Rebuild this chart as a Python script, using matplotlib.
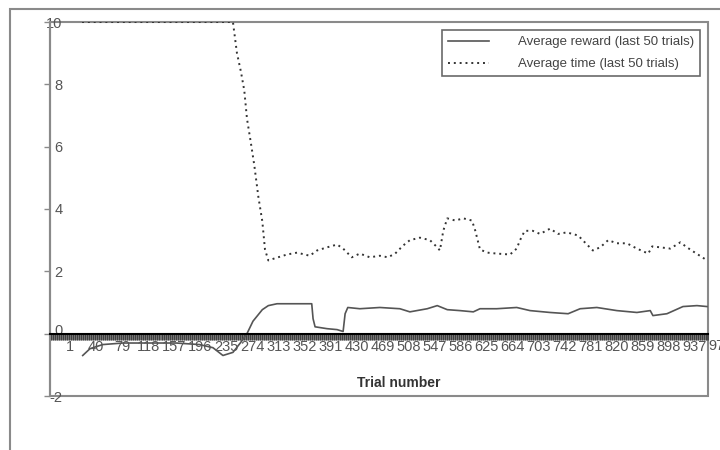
import matplotlib
matplotlib.use("Agg")
import matplotlib.pyplot as plt
import matplotlib.transforms as mtransforms
from matplotlib.patches import Rectangle
from matplotlib.ticker import MultipleLocator, FixedLocator

plt.rcParams['font.family'] = ['Liberation Sans', 'DejaVu Sans']

# average reward over the last 50 trials
reward_trial = [20, 31, 50, 80, 120, 160, 195, 215, 230, 245, 256, 266, 275, 289, 298,
                311, 363, 365, 368, 386, 401, 410, 413, 417, 435, 465, 495, 510, 536,
                551, 566, 585, 605, 615, 640, 670, 690, 720, 747, 765, 790, 820, 850,
                870, 874, 895, 919, 940, 955]
reward_val = [-0.7, -0.48, -0.35, -0.3, -0.3, -0.3, -0.35, -0.45, -0.7, -0.6, -0.3, 0.0,
              0.4, 0.77, 0.9, 0.96, 0.96, 0.48, 0.22, 0.16, 0.13, 0.07, 0.64, 0.84, 0.8,
              0.84, 0.8, 0.7, 0.8, 0.9, 0.77, 0.74, 0.7, 0.8, 0.8, 0.84, 0.74, 0.68,
              0.64, 0.8, 0.84, 0.74, 0.68, 0.74, 0.58, 0.64, 0.87, 0.9, 0.87]

# average time over the last 50 trials
time_trial = [19, 245, 251, 257, 262, 266, 272, 277, 283, 289, 293, 298, 311, 326, 341,
              360, 371, 386, 401, 410, 423, 435, 450, 465, 477, 488, 500, 510, 525, 540,
              551, 555, 560, 566, 578, 590, 603, 608, 615, 626, 640, 660, 670, 675, 682,
              694, 705, 720, 732, 745, 762, 772, 784, 795, 807, 820, 835, 850, 867, 873,
              885, 900, 915, 925, 937, 948, 955]
time_val = [10, 10, 9.0, 8.4, 7.8, 6.9, 6.1, 5.4, 4.4, 3.6, 2.7, 2.35, 2.44, 2.54, 2.6,
            2.5, 2.67, 2.77, 2.86, 2.73, 2.45, 2.57, 2.45, 2.5, 2.45, 2.57, 2.83, 3.0,
            3.08, 3.0, 2.77, 2.67, 3.3, 3.7, 3.63, 3.7, 3.63, 3.3, 2.7, 2.6, 2.57, 2.54,
            2.73, 3.0, 3.3, 3.3, 3.2, 3.37, 3.2, 3.25, 3.15, 2.93, 2.67, 2.77, 3.0, 2.9,
            2.9, 2.73, 2.57, 2.8, 2.77, 2.73, 2.93, 2.77, 2.6, 2.45, 2.35]

tick_labels = list(range(1, 977, 39))
y_ticks = [-2, 0, 2, 4, 6, 8, 10]

fig = plt.figure(figsize=(7.2, 4.5), dpi=100)
W, H = 720.0, 450.0

# outer chart frame (runs off the right and bottom edge)
fig.patches.append(Rectangle((10 / W, -0.2), 1.2, 1 - 9 / H + 0.2, transform=fig.transFigure,
                             fill=False, edgecolor='#8a8a8a', linewidth=1.5))

ax = fig.add_axes([50 / W, 1 - 396 / H, 658 / W, 374 / H])
ax.set_xlim(-29, 956.5)
ax.set_ylim(-2, 10)

ax.plot(reward_trial, reward_val, color='#555555', lw=1.2, label='Average reward (last 50 trials)')
ax.plot(time_trial, time_val, color='#333333', lw=1.4, ls=(0, (1, 2)),
        label='Average time (last 50 trials)')

# plot area border
ax.add_patch(Rectangle((0, 0), 1, 1, transform=ax.transAxes, fill=False,
                       edgecolor='#8a8a8a', linewidth=1.5, clip_on=False))
for s in ['top', 'right']:
    ax.spines[s].set_visible(False)
ax.spines['left'].set_color('#8a8a8a')
ax.spines['left'].set_linewidth(1.5)
ax.spines['bottom'].set_position(('data', 0))
ax.spines['bottom'].set_color('black')
ax.spines['bottom'].set_linewidth(1.5)

ax.xaxis.set_major_locator(FixedLocator(tick_labels))
ax.set_xticklabels([str(t) for t in tick_labels])
ax.xaxis.set_minor_locator(MultipleLocator(1))
ax.tick_params(axis='x', which='both', direction='out', length=4.5, width=0.45,
               color='#222222', labelsize=10.5, labelcolor='#555555', pad=0)
# last category label sits past the plot area, cut by the chart edge as in the source
ax.text(976, -0.17, '976', ha='center', va='top', fontsize=10.5, color='#555555',
        clip_on=False)

ax.set_yticks(y_ticks)
ax.set_yticklabels([str(v) for v in y_ticks])
ax.tick_params(axis='y', direction='out', length=4, width=1, color='#8a8a8a',
               labelsize=10.5, labelcolor='#555555', pad=-13)
# the "0" label sits just above the dense category ticks
for lab in ax.get_yticklabels():
    if lab.get_text() == '0':
        lab.set_transform(lab.get_transform() +
                          mtransforms.ScaledTranslation(0, 3 / 72, fig.dpi_scale_trans))

ax.set_xlabel('Trial number', fontsize=10, fontweight='bold', color='#333333')
ax.xaxis.set_label_coords((399 - 50) / 658, (396 - 383) / 374)
ax.xaxis.label.set_va('center')

leg = ax.legend(loc='upper left', bbox_to_anchor=((442 - 50) / 658, (396 - 30) / 374),
                frameon=True, fancybox=False, fontsize=9.5, handlelength=3.1,
                handletextpad=2.2, borderpad=0.45, labelspacing=0.75, borderaxespad=0)
leg.get_frame().set_edgecolor('#444444')
leg.get_frame().set_linewidth(1.2)
for t in leg.get_texts():
    t.set_color('#444444')

fig.savefig('out.png', dpi=100)
